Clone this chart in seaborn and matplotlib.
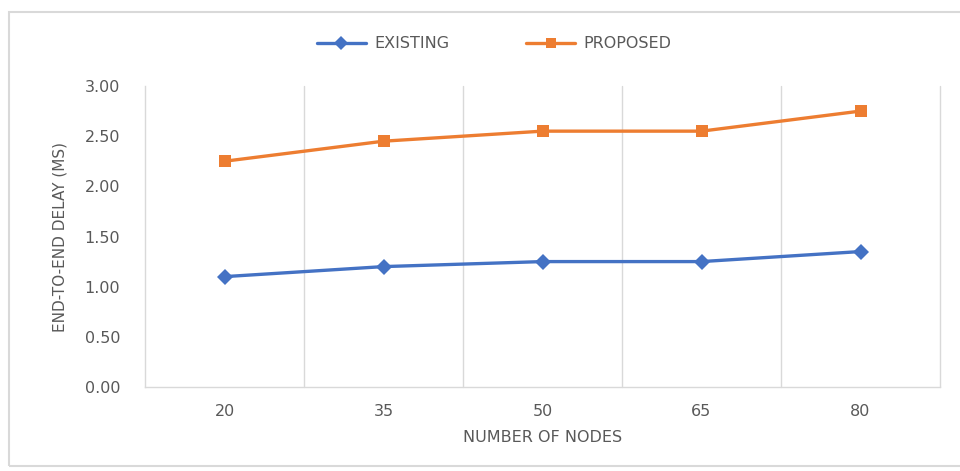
import matplotlib
matplotlib.use("Agg")
import matplotlib.pyplot as plt
import seaborn as sns
import pandas as pd
from matplotlib.patches import Rectangle
from matplotlib.lines import Line2D

nodes = ["20", "35", "50", "65", "80"]
existing = [1.10, 1.20, 1.25, 1.25, 1.35]
proposed = [2.25, 2.45, 2.55, 2.55, 2.75]
series_names = ["EXISTING", "PROPOSED"]
y_ticks = [0.0, 0.5, 1.0, 1.5, 2.0, 2.5, 3.0]

sns.set_theme(style="white")
plt.rcParams["font.family"] = ["DejaVu Sans"]

df = pd.DataFrame({
    "pos": list(range(len(nodes))) * 2,
    "delay": existing + proposed,
    "series": [series_names[0]] * len(nodes) + [series_names[1]] * len(nodes),
})

text_col = "#595959"
grid_col = "#D9D9D9"
palette = {"EXISTING": "#4472C4", "PROPOSED": "#ED7D31"}
markers = {"EXISTING": "D", "PROPOSED": "s"}

fig = plt.figure(figsize=(9.6, 4.71), dpi=100)
ax = fig.add_axes([145 / 960, 1 - 387 / 471, 795 / 960, 301 / 471])

# chart frame
fig.patches.append(Rectangle((9 / 960, 1 - 466 / 471), 1.0, 454 / 471,
                             transform=fig.transFigure, fill=False,
                             edgecolor="#D9D9D9", linewidth=1.5, zorder=0))

sns.lineplot(data=df, x="pos", y="delay", hue="series", style="series",
             palette=palette, markers=markers, dashes=False,
             linewidth=2.4, markersize=8, markeredgewidth=0, ax=ax,
             legend=False)

ax.set_xlim(-0.5, len(nodes) - 0.5)
ax.set_ylim(0, 3.0)
ax.set_xticks(range(len(nodes)))
ax.set_xticklabels(nodes)
ax.set_yticks(y_ticks)
ax.set_yticklabels([f"{v:.2f}" for v in y_ticks])

# vertical gridlines between categories
for b in [i + 0.5 for i in range(len(nodes))]:
    ax.axvline(b, color=grid_col, linewidth=1.0, zorder=0, clip_on=False)

for s in ["top", "right"]:
    ax.spines[s].set_visible(False)
for s in ["left", "bottom"]:
    ax.spines[s].set_color(grid_col)
    ax.spines[s].set_linewidth(1.0)

ax.tick_params(axis="both", length=0, colors=text_col, labelsize=11.5)
ax.tick_params(axis="x", pad=12)
ax.tick_params(axis="y", pad=18)
ax.set_xlabel("NUMBER OF NODES", color=text_col, fontsize=11.5, labelpad=8)
ax.set_ylabel("END-TO-END DELAY (MS)", color=text_col, fontsize=11, labelpad=12)

handles = [Line2D([], [], color=palette[n], marker=markers[n], linewidth=2.4,
                  markersize=7, markeredgewidth=0) for n in series_names]
fig.legend(handles, series_names, loc="center", bbox_to_anchor=(494 / 960, 1 - 44 / 471),
           ncol=2, frameon=False, fontsize=11.5, labelcolor=text_col,
           handlelength=3.1, columnspacing=4.8, handletextpad=0.5)

fig.savefig("out.png", dpi=100, facecolor="white")
